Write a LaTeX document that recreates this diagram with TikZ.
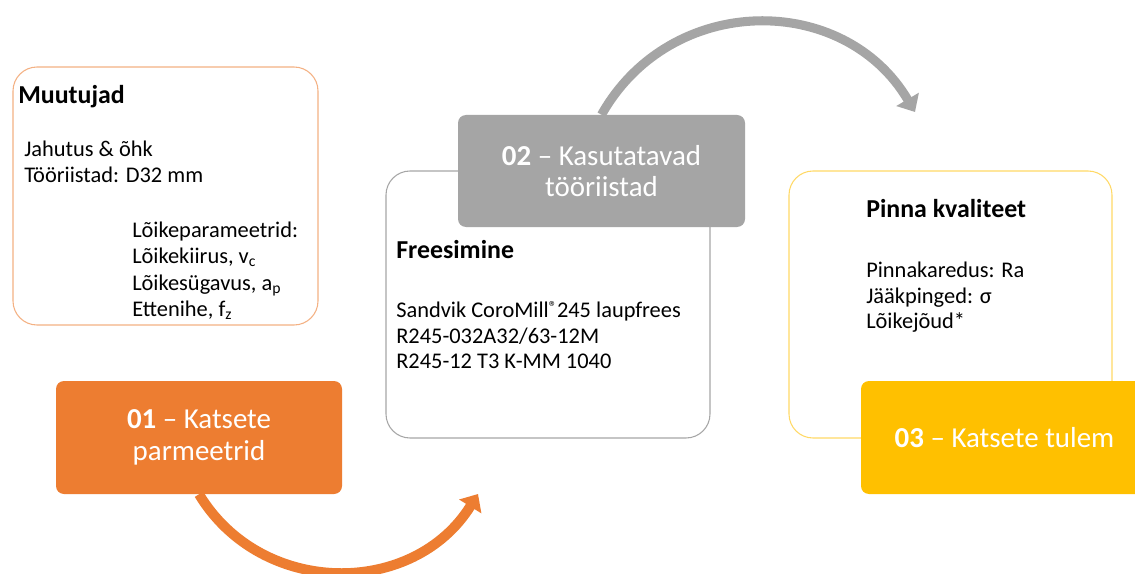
\documentclass[tikz,border=0pt]{standalone}
\usepackage{fontspec}
\setmainfont{Carlito}
\usetikzlibrary{arrows.meta}
\definecolor{orangeA}{HTML}{ED7D31}
\definecolor{orangeL}{HTML}{F4B183}
\definecolor{grayA}{HTML}{A5A5A5}
\definecolor{grayL}{HTML}{A6A6A6}
\definecolor{yellowA}{HTML}{FFC000}
\definecolor{yellowL}{HTML}{FFD966}

\begin{document}
\begin{tikzpicture}[x=0.75pt,y=-0.75pt,
  outbox/.style={draw, rounded corners=18pt, fill=white, line width=0.8pt, inner sep=0pt},
  labelbox/.style={rounded corners=6pt, text=white, align=center, inner sep=0pt,
    font=\fontsize{21.7}{23.8}\selectfont},
  body/.style={anchor=base west, inner sep=0pt, font=\fontsize{16.8}{19.5}\selectfont},
  head/.style={anchor=base west, inner sep=0pt, font=\fontsize{19.4}{22}\selectfont\bfseries},
  bigarrow/.style={line width=7.5pt, -{Triangle[length=11pt,width=19pt]}}]
  \useasboundingbox[fill=white] (0,0) rectangle (1135,574);

  % 01 - muutujad
  \node[outbox, draw=orangeL, minimum width=228.75pt, minimum height=193.5pt] (var) at (165.5,196) {};
  \node[head] (var-t) at (18,104) {Muutujad};
  \node[body] (var-1) at (24,157) {Jahutus \& õhk};
  \node[body] (var-2) at (24,183) {Tööriistad: D32 mm};
  \node[body] (var-3) at (132,237) {Lõikeparameetrid:};
  \node[body] (var-4) at (132,263) {Lõikekiirus, v\textsubscript{c}};
  \node[body] (var-5) at (132,290) {Lõikesügavus, a\textsubscript{p}};
  \node[body] (var-6) at (132,316) {Ettenihe, f\textsubscript{z}};
  \node[labelbox, fill=orangeA, minimum width=214.5pt, minimum height=84.75pt] (olab) at (199,437.5)
    {\textbf{01} – Katsete\\parmeetrid};

  % 02 - tooriistad
  \node[outbox, draw=grayL, minimum width=243pt, minimum height=200.25pt] (tool) at (548,304.5) {};
  \node[head] (tool-t) at (396,258) {Freesimine};
  \node[body] (tool-1) at (396,317)
    {Sandvik CoroMill{\fontsize{12}{12}\selectfont\raisebox{0.55ex}{®}}245 laupfrees};
  \node[body] (tool-2) at (396,343) {R245-032A32/63-12M};
  \node[body] (tool-3) at (396,368) {R245-12 T3 K-MM 1040};
  \node[labelbox, fill=grayA, minimum width=215.25pt, minimum height=84pt] (glab) at (601.5,171)
    {\textbf{02} – Kasutatavad\\tööriistad};

  % 03 - tulemused
  \node[outbox, draw=yellowL, minimum width=242.25pt, minimum height=200.25pt] (res) at (950.5,304.5) {};
  \node[head] (res-t) at (866,218) {Pinna kvaliteet};
  \node[body] (res-1) at (866,277) {Pinnakaredus: Ra};
  \node[body] (res-2) at (866,303) {Jääkpinged: σ};
  \node[body] (res-3) at (866,328) {Lõikejõud*};
  \node[labelbox, fill=yellowA, minimum width=215.25pt, minimum height=84.75pt] (ylab) at (1004.5,437.5)
    {\textbf{03} – Katsete tulem};

  % nooled
  \coordinate (oend) at (478,494);
  \coordinate (gend) at (915,112);
  \draw[bigarrow, draw=orangeA] (olab.south) .. controls (261.5,597.6) and (413.5,597.6) .. (oend);
  \draw[bigarrow, draw=grayA, line width=6.8pt] (glab.north) .. controls (670.7,-8) and (844.3,-8) .. (gend);
\end{tikzpicture}
\end{document}
